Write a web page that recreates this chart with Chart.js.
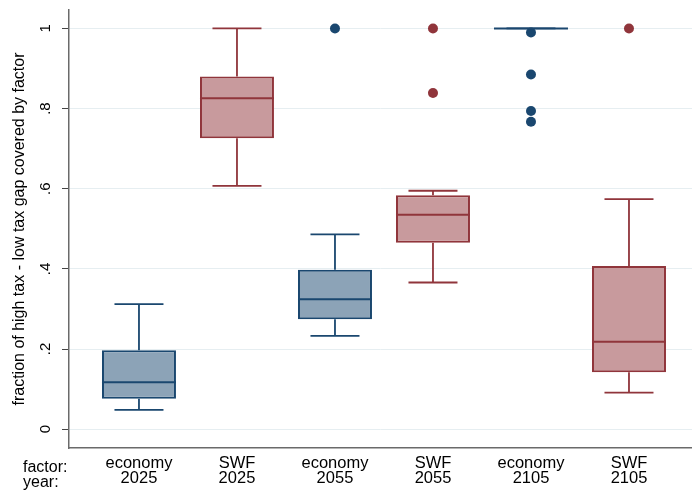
<!DOCTYPE html>
<html>
<head>
<meta charset="utf-8">
<script src="https://cdn.jsdelivr.net/npm/chart.js@4"></script>
<style>
  html, body { margin: 0; padding: 0; background: #fff; }
  #wrap { width: 692px; height: 494px; }
</style>
</head>
<body>
<div id="wrap"><canvas id="box-chart" width="692" height="494"></canvas></div>
<script>
// categories
const factors = ['economy', 'SWF', 'economy', 'SWF', 'economy', 'SWF'];
const years = ['2025', '2025', '2055', '2055', '2105', '2105'];

// box statistics
const whiskerLow = [0.048, 0.607, 0.233, 0.366, 1.0, 0.091];
const boxLow = [0.076, 0.726, 0.274, 0.465, 1.0, 0.142];
const medians = [0.117, 0.826, 0.324, 0.535, 1.0, 0.218];
const boxHigh = [0.197, 0.880, 0.398, 0.584, 1.0, 0.407];
const whiskerHigh = [0.312, 1.0, 0.486, 0.595, 1.0, 0.574];

// outside values
const economyOutliers = [
    { x: 2, y: 1.0 },
    { x: 4, y: 0.99 },
    { x: 4, y: 0.885 },
    { x: 4, y: 0.794 },
    { x: 4, y: 0.767 }
];
const swfOutliers = [
    { x: 3, y: 1.0 },
    { x: 3, y: 0.839 },
    { x: 5, y: 1.0 }
];

const yTicks = [0, 0.2, 0.4, 0.6, 0.8, 1];

const colors = {
    economyLine: '#1a476f',
    economyFill: '#8ca3b7',
    swfLine: '#90353b',
    swfFill: '#c89a9d',
    grid: '#e6eef1',
    axis: '#6a6a6a',
    text: '#000000'
};

const boxWidth = 0.755;   // in category units
const capWidth = 0.5;

const lineColorFor = i => factors[i] === 'SWF' ? colors.swfLine : colors.economyLine;
const fillColorFor = i => factors[i] === 'SWF' ? colors.swfFill : colors.economyFill;

// whiskers, caps and median lines, placed with the chart's own scales
const whiskerPlugin = {
    id: 'whiskers',
    afterDatasetsDraw(chart) {
        const { ctx } = chart;
        const xs = chart.scales.x;
        const ys = chart.scales.y;
        ctx.save();
        ctx.lineCap = 'butt';
        factors.forEach((f, i) => {
            const cx = xs.getPixelForValue(i);
            const capL = xs.getPixelForValue(i - capWidth / 2);
            const capR = xs.getPixelForValue(i + capWidth / 2);
            const boxL = xs.getPixelForValue(i - boxWidth / 2);
            const boxR = xs.getPixelForValue(i + boxWidth / 2);
            ctx.strokeStyle = lineColorFor(i);

            ctx.lineWidth = 1.8;
            ctx.beginPath();
            ctx.moveTo(cx, ys.getPixelForValue(boxHigh[i]));
            ctx.lineTo(cx, ys.getPixelForValue(whiskerHigh[i]));
            ctx.moveTo(cx, ys.getPixelForValue(boxLow[i]));
            ctx.lineTo(cx, ys.getPixelForValue(whiskerLow[i]));
            ctx.moveTo(capL, ys.getPixelForValue(whiskerHigh[i]));
            ctx.lineTo(capR, ys.getPixelForValue(whiskerHigh[i]));
            ctx.moveTo(capL, ys.getPixelForValue(whiskerLow[i]));
            ctx.lineTo(capR, ys.getPixelForValue(whiskerLow[i]));
            ctx.stroke();

            ctx.lineWidth = 2;
            ctx.beginPath();
            ctx.moveTo(boxL, ys.getPixelForValue(medians[i]));
            ctx.lineTo(boxR, ys.getPixelForValue(medians[i]));
            ctx.stroke();
        });
        ctx.restore();
    }
};

// "factor:" / "year:" captions left of the category labels
const captionPlugin = {
    id: 'captions',
    afterDraw(chart) {
        const { ctx } = chart;
        const xs = chart.scales.x;
        ctx.save();
        ctx.fillStyle = colors.text;
        ctx.font = '16px "Liberation Sans", Arial, sans-serif';
        ctx.textAlign = 'left';
        ctx.textBaseline = 'alphabetic';
        ctx.fillText('factor:', 23, xs.top + 24);
        ctx.fillText('year:', 23, xs.top + 39);
        ctx.restore();
    }
};

const ctx = document.getElementById('box-chart').getContext('2d');

new Chart(ctx, {
    type: 'bar',
    data: {
        datasets: [{
            label: 'box',
            data: factors.map((f, i) => ({ x: i, y: [boxLow[i], boxHigh[i]] })),
            backgroundColor: factors.map((f, i) => fillColorFor(i)),
            borderColor: factors.map((f, i) => lineColorFor(i)),
            borderWidth: 2,
            borderSkipped: false,
            categoryPercentage: 1,
            barPercentage: boxWidth,
            order: 2
        }, {
            type: 'scatter',
            label: 'economy outside',
            data: economyOutliers,
            backgroundColor: colors.economyLine,
            borderColor: colors.economyLine,
            pointRadius: 5,
            borderWidth: 0,
            order: 1
        }, {
            type: 'scatter',
            label: 'SWF outside',
            data: swfOutliers,
            backgroundColor: colors.swfLine,
            borderColor: colors.swfLine,
            pointRadius: 5,
            borderWidth: 0,
            order: 1
        }]
    },
    options: {
        responsive: false,
        animation: false,
        devicePixelRatio: 1,
        layout: { autoPadding: false, padding: { top: 10, left: 0, right: 0, bottom: 0 } },
        plugins: {
            legend: { display: false },
            tooltip: { enabled: false }
        },
        scales: {
            x: {
                type: 'linear',
                offset: false,
                min: -0.714,
                max: 5.643,
                afterBuildTicks: scale => {
                    scale.ticks = factors.map((f, i) => ({ value: i }));
                },
                afterFit: scale => {
                    scale.height = 46;
                    scale.paddingLeft = 0;
                    scale.paddingRight = 0;
                },
                grid: { display: false, drawTicks: false },
                border: { display: true, color: colors.axis, width: 1.5 },
                ticks: {
                    autoSkip: false,
                    maxRotation: 0,
                    padding: 8,
                    color: colors.text,
                    font: { family: '"Liberation Sans", Arial, sans-serif', size: 16.5, lineHeight: 0.92 },
                    callback: (value, index) => [factors[index], years[index]]
                }
            },
            y: {
                type: 'linear',
                min: -0.047,
                max: 1.046,
                afterBuildTicks: scale => {
                    scale.ticks = yTicks.map(v => ({ value: v }));
                },
                afterFit: scale => {
                    scale.width = 69;
                    scale.paddingTop = 0;
                    scale.paddingBottom = 0;
                },
                grid: {
                    color: colors.grid,
                    lineWidth: 1,
                    drawTicks: true,
                    tickLength: 7,
                    tickColor: '#444'
                },
                border: { display: true, color: colors.axis, width: 1.5 },
                ticks: {
                    minRotation: 90,
                    maxRotation: 90,
                    crossAlign: 'center',
                    padding: 10,
                    color: colors.text,
                    font: { family: '"Liberation Sans", Arial, sans-serif', size: 15 },
                    callback: value => String(Math.round(value * 10) / 10).replace(/^0\./, '.')
                },
                title: {
                    display: true,
                    text: 'fraction of high tax - low tax gap covered by factor',
                    color: colors.text,
                    font: { family: '"Liberation Sans", Arial, sans-serif', size: 16 },
                    padding: { top: 10, bottom: 0 }
                }
            }
        }
    },
    plugins: [whiskerPlugin, captionPlugin]
});
</script>
</body>
</html>
